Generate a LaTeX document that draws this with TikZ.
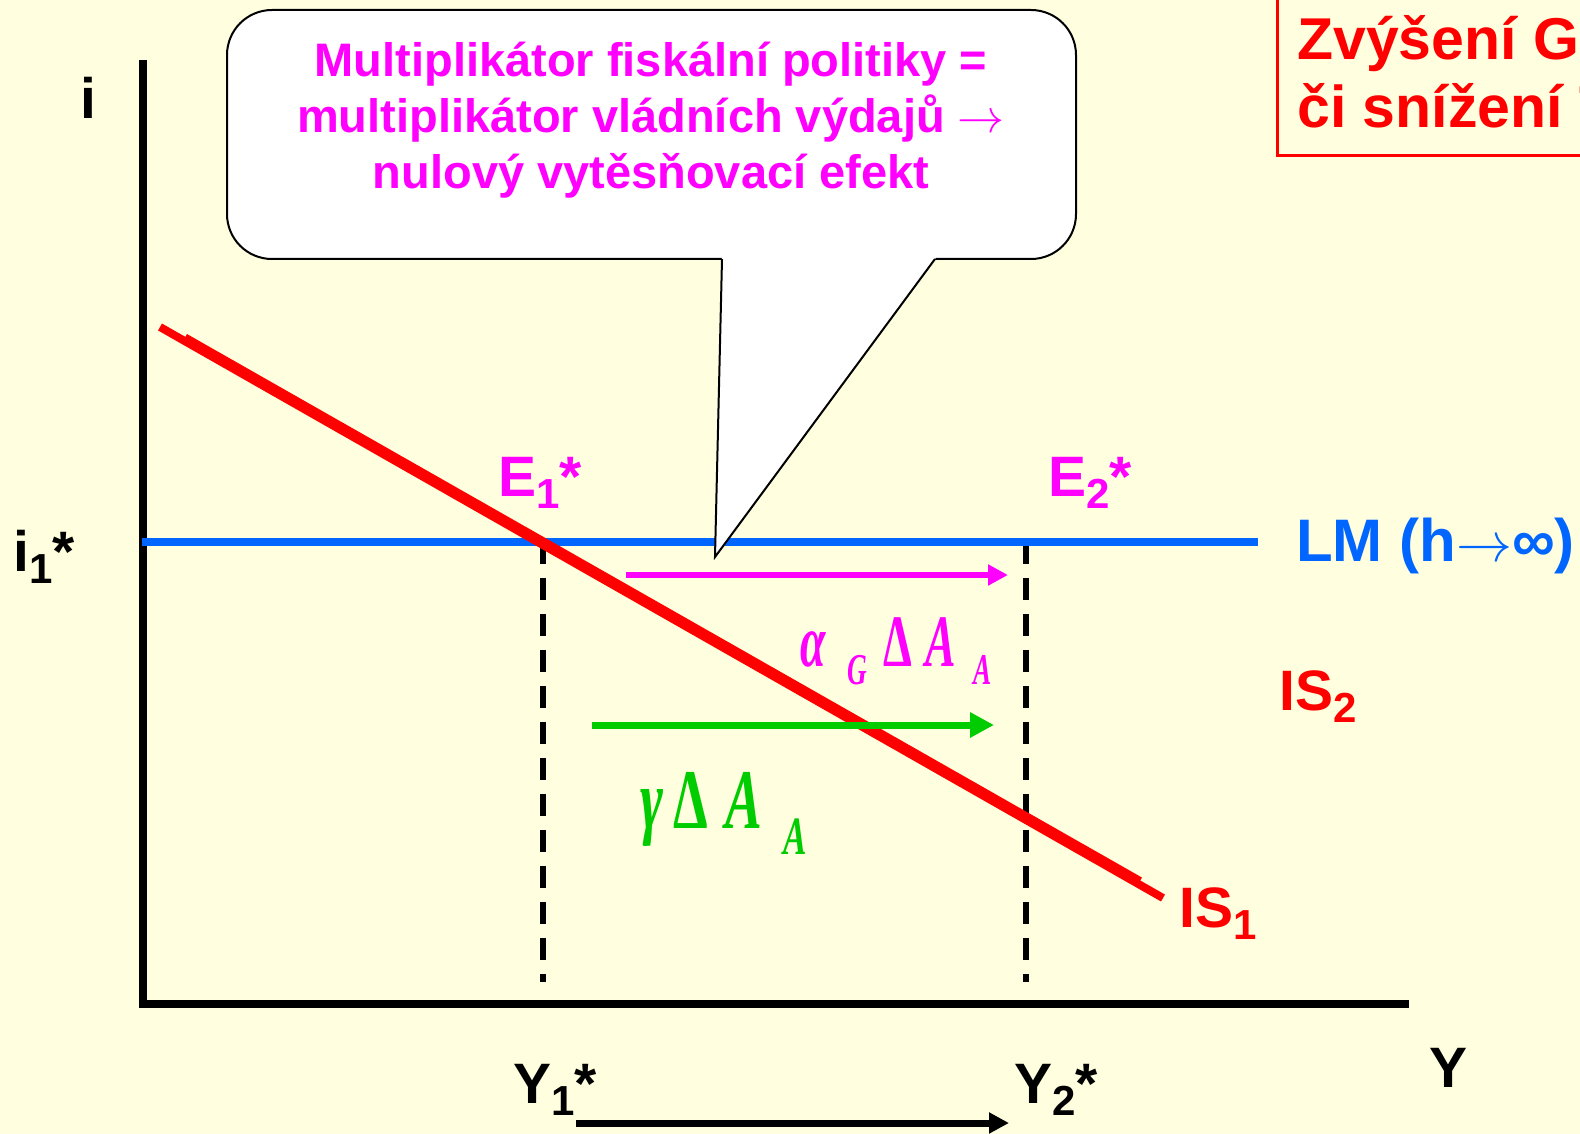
\documentclass[tikz,border=0pt]{standalone}
\usepackage{fontspec}
\usepackage{graphicx}
\setmainfont{Liberation Sans}
\newfontfamily\eqfont{Liberation Serif}
\usetikzlibrary{arrows.meta}
\definecolor{paper}{HTML}{FFFFE0}
\definecolor{lmblue}{HTML}{0066FF}
\definecolor{isred}{HTML}{FF0000}
\definecolor{mag}{HTML}{FF00FF}
\definecolor{grn}{HTML}{00CC00}
% label with subscript
\newcommand{\lab}[2]{#1\raisebox{-12pt}{\fontsize{42}{42}\selectfont #2}}
% one squeezed glyph: xscale, size, drop, text
\newcommand{\gl}[4]{\rlap{\raisebox{-#3pt}{\fontsize{#2}{#2}\selectfont\scalebox{#1}[1]{#4}}}}
% thin arrow, blown up from 10pt
\newcommand{\thinto}[1]{\scalebox{#1}{\fontsize{10}{12}\selectfont$\rightarrow$}}

\begin{document}
\begin{tikzpicture}[x=1pt,y=-1pt,
  lbl/.style={font=\fontsize{57}{60}\selectfont\bfseries,anchor=base west,inner sep=0pt},
  eq/.style={font=\eqfont\bfseries,anchor=base west,inner sep=0pt},
  ax/.style={black,line width=8pt},
  isl/.style={isred,line width=8pt},
  drop/.style={black,line width=6pt,dash pattern=on 22pt off 14pt},
  shiftarrow/.style={line width=6pt,-{Triangle[length=20pt,width=20pt]}},
  callout/.style={draw=black,fill=white,line width=2pt,rounded corners=45pt,
                  minimum width=849pt,minimum height=249pt}]

\useasboundingbox (0,0) rectangle (1580,1134);
\clip (0,0) rectangle (1580,1134);
\fill[paper] (0,0) rectangle (1580,1134);

% axes
\coordinate (itop) at (142.5,60);
\coordinate (O)    at (142.5,1004);
\coordinate (yend) at (1409,1004);
\draw[ax] (itop) -- (O) -- (yend);

% equilibria and drop lines
\coordinate (e1) at (543,542);
\coordinate (e2) at (1026,542);
\coordinate (y1) at (543,982);
\coordinate (y2) at (1026,982);
\draw[drop] (e1) -- (y1);
\draw[drop] (e2) -- (y2);

% LM and the two IS curves
\coordinate (lmL) at (142,542);
\coordinate (lmR) at (1258,542);
\draw[lmblue,line width=8pt] (lmL) -- (lmR);
\coordinate (is1a) at (160,327);
\coordinate (is1b) at (1163,898);
\coordinate (is2a) at (185,337.5);
\coordinate (is2b) at (1140,881);
\draw[isl] (is1a) -- (is1b);
\draw[isl] (is2a) -- (is2b);

% shifts
\coordinate (ma) at (626,575);
\coordinate (mb) at (1008,575);
\draw[shiftarrow,mag] (ma) -- (mb);
\coordinate (ga) at (592,725);
\coordinate (gb) at (994,725);
\draw[shiftarrow,grn,line width=7pt,-{Triangle[length=24pt,width=24pt]}] (ga) -- (gb);
\coordinate (ya) at (576,1123);
\coordinate (yb) at (1009,1123);
\draw[shiftarrow,black,line width=7pt] (ya) -- (yb);

% callout
\node[callout] (note) at (651.5,134.5) {};
\fill[white] (722,255) -- (715,557) -- (938,255) -- cycle;
\draw[line width=2pt,line join=miter] (722,259) -- (715,557) -- (935,259);
\node[font=\fontsize{47}{56}\selectfont\bfseries,text=mag,align=center,inner sep=0pt] (txt) at (651,120)
  {Multiplikátor fiskální politiky =\\multiplikátor vládních výdajů \thinto{4.7}\\nulový vytěsňovací efekt};

% axis labels
\node[lbl] (iax)  at (80,119)    {i};
\node[lbl] (i1)   at (13,571)    {\lab{i}{1}*};
\node[lbl] (yax)  at (1429,1087) {Y};
\node[lbl] (y1l)  at (513,1103)  {\lab{Y}{1}*};
\node[lbl] (y2l)  at (1014,1103) {\lab{Y}{2}*};

% curve labels
\node[lbl,text=mag]    (e1l) at (498,496)  {\lab{E}{1}*};
\node[lbl,text=mag]    (e2l) at (1048,496) {\lab{E}{2}*};
\node[lbl,text=isred]  (is1l) at (1179,927) {\lab{IS}{1}};
\node[lbl,text=isred]  (is2l) at (1279,710) {\lab{IS}{2}};
\node[lbl,text=lmblue,font=\fontsize{60}{60}\selectfont\bfseries] (lml) at (1296,561) {LM (h\thinto{5.6}∞)};

% multipliers
\node[eq,text=mag] (alpha) at (800,666)
  {\gl{.62}{74}{0}{\itshape α}\hspace{47pt}\gl{.62}{44}{18}{\itshape G}\hspace{36pt}\gl{.62}{74}{0}{Δ}\hspace{42pt}\gl{.62}{74}{0}{\itshape A}\hspace{48pt}\gl{.62}{44}{18}{\itshape A}};
\node[eq,text=grn] (gamma) at (640,828)
  {\gl{.65}{85}{0}{\itshape γ}\hspace{33pt}\gl{.65}{85}{0}{Δ}\hspace{52pt}\gl{.65}{85}{0}{\itshape A}\hspace{58pt}\gl{.65}{54}{26}{\itshape A}};

% topic box, cut by the page edge
\draw[isred,line width=3pt] (1277,-10) rectangle (1620,156);
\node[lbl,text=isred,font=\fontsize{59}{60}\selectfont\bfseries] (topA) at (1297,60)  {Zvýšení G};
\node[lbl,text=isred,font=\fontsize{59}{60}\selectfont\bfseries] (topB) at (1297,128) {či snížení T};
\end{tikzpicture}
\end{document}
